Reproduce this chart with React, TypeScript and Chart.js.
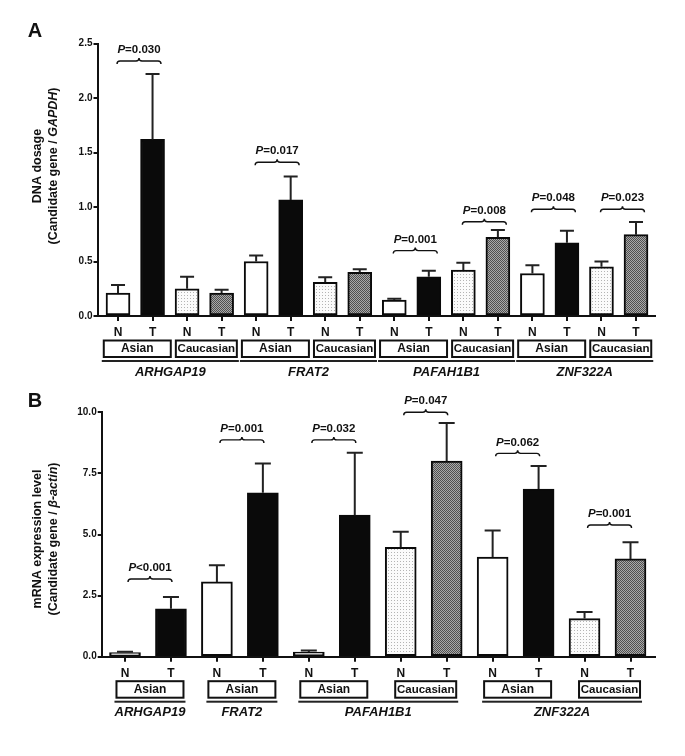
import React, { useEffect, useRef } from 'react';
import { Chart, registerables } from 'chart.js';
Chart.register(...registerables);

const FONT = '"Liberation Sans", Arial, Helvetica, sans-serif';

// ---------- Panel A: DNA dosage ----------
const aTypes = ['N', 'T', 'N', 'T', 'N', 'T', 'N', 'T', 'N', 'T', 'N', 'T', 'N', 'T', 'N', 'T'];
const aMeans = [0.21, 1.62, 0.25, 0.21, 0.5, 1.065, 0.31, 0.4, 0.147, 0.36, 0.422, 0.722, 0.39, 0.672, 0.452, 0.746];
const aSEM = [0.075, 0.6, 0.11, 0.03, 0.055, 0.215, 0.045, 0.03, 0.012, 0.056, 0.067, 0.067, 0.075, 0.111, 0.048, 0.116];
const aPopulations = ['Asian', 'Caucasian', 'Asian', 'Caucasian', 'Asian', 'Caucasian', 'Asian', 'Caucasian'];
const aGenes = ['ARHGAP19', 'FRAT2', 'PAFAH1B1', 'ZNF322A'];
const aGenePairs = [2, 2, 2, 2];
const aPPairs = [0, 2, 4, 5, 6, 7];
const aPText = ['=0.030', '=0.017', '=0.001', '=0.008', '=0.048', '=0.023'];
const aPLevel = [2.34, 1.41, 0.6, 0.865, 0.98, 0.98];
const aYTicks = [0, 0.5, 1.0, 1.5, 2.0, 2.5];

// ---------- Panel B: mRNA expression ----------
const bTypes = ['N', 'T', 'N', 'T', 'N', 'T', 'N', 'T', 'N', 'T', 'N', 'T'];
const bMeans = [0.17, 1.96, 3.06, 6.71, 0.19, 5.79, 4.48, 8.0, 4.08, 6.86, 1.56, 4.0];
const bSEM = [0.03, 0.48, 0.68, 1.19, 0.06, 2.56, 0.63, 1.56, 1.08, 0.94, 0.27, 0.68];
const bPopulations = ['Asian', 'Asian', 'Asian', 'Caucasian', 'Asian', 'Caucasian'];
const bGenes = ['ARHGAP19', 'FRAT2', 'PAFAH1B1', 'ZNF322A'];
const bGenePairs = [1, 1, 2, 2];
const bPPairs = [0, 1, 2, 3, 4, 5];
const bPText = ['<0.001', '=0.001', '=0.032', '=0.047', '=0.062', '=0.001'];
const bPLevel = [3.18, 8.87, 8.87, 10.0, 8.32, 5.39];
const bYTicks = [0, 2.5, 5.0, 7.5, 10.0];

type Panel = {
  canvasH: number; top: number; bottom: number; left: number; right: number;
  xMin: number; xMax: number; barThickness: number; yMax: number; yTicks: number[];
  capW: number; braceDx: number; braceW: number;
  types: string[]; means: number[]; sem: number[]; pops: string[];
  genes: string[]; genePairs: number[]; pPairs: number[]; pText: string[]; pLevel: number[];
  letter: string; letterX: number; letterY: number;
  title1: string; title2a: string; title2b: string; title2c: string;
  titleX1: number; titleX2: number; titleY: number;
};

const panelA: Panel = {
  canvasH: 380, top: 43.5, bottom: 316, left: 97.5, right: 655,
  xMin: -0.594, xMax: 15.55, barThickness: 24, yMax: 2.5, yTicks: aYTicks,
  capW: 14, braceDx: -1, braceW: 44,
  types: aTypes, means: aMeans, sem: aSEM, pops: aPopulations,
  genes: aGenes, genePairs: aGenePairs, pPairs: aPPairs, pText: aPText, pLevel: aPLevel,
  letter: 'A', letterX: 35, letterY: 31,
  title1: 'DNA dosage', title2a: '(Candidate gene / ', title2b: 'GAPDH', title2c: ')',
  titleX1: 38, titleX2: 54, titleY: 166,
};

const panelB: Panel = {
  canvasH: 376, top: 32.3, bottom: 276.7, left: 101.7, right: 655,
  xMin: -0.507, xMax: 11.533, barThickness: 31, yMax: 10, yTicks: bYTicks,
  capW: 16, braceDx: 3, braceW: 44,
  types: bTypes, means: bMeans, sem: bSEM, pops: bPopulations,
  genes: bGenes, genePairs: bGenePairs, pPairs: bPPairs, pText: bPText, pLevel: bPLevel,
  letter: 'B', letterX: 35, letterY: 21,
  title1: 'mRNA expression level', title2a: '(Candidate gene / ', title2b: '\u03b2-actin', title2c: ')',
  titleX1: 38, titleX2: 54, titleY: 159,
};

function makeChecker(): CanvasPattern | string {
  const c = document.createElement('canvas');
  c.width = 2; c.height = 2;
  const g = c.getContext('2d');
  if (!g) return '#808080';
  g.fillStyle = '#a9a9a9'; g.fillRect(0, 0, 2, 2);
  g.fillStyle = '#505050'; g.fillRect(0, 0, 1, 1); g.fillRect(1, 1, 1, 1);
  const p = g.createPattern(c, 'repeat');
  return p || '#808080';
}

function makeDots(): CanvasPattern | string {
  const c = document.createElement('canvas');
  c.width = 3; c.height = 3;
  const g = c.getContext('2d');
  if (!g) return '#eeeeee';
  g.fillStyle = '#fbfbfb'; g.fillRect(0, 0, 3, 3);
  g.fillStyle = '#b4b4b4'; g.fillRect(1, 1, 1, 1);
  const p = g.createPattern(c, 'repeat');
  return p || '#eeeeee';
}

function drawBrace(ctx: CanvasRenderingContext2D, x1: number, x2: number, y: number) {
  const xm = (x1 + x2) / 2;
  const h = 3;
  ctx.beginPath();
  ctx.moveTo(x1, y + h);
  ctx.quadraticCurveTo(x1, y, x1 + h, y);
  ctx.lineTo(xm - h, y);
  ctx.quadraticCurveTo(xm, y, xm, y - h);
  ctx.quadraticCurveTo(xm, y, xm + h, y);
  ctx.lineTo(x2 - h, y);
  ctx.quadraticCurveTo(x2, y, x2, y + h);
  ctx.stroke();
}

function drawMixed(ctx: CanvasRenderingContext2D, parts: { t: string; italic: boolean }[], size: number, cx: number, cy: number) {
  const fonts = parts.map(p => `${p.italic ? 'italic ' : ''}bold ${size}px ${FONT}`);
  let total = 0;
  const widths = parts.map((p, i) => { ctx.font = fonts[i]; const w = ctx.measureText(p.t).width; total += w; return w; });
  let x = cx - total / 2;
  ctx.textAlign = 'left';
  ctx.textBaseline = 'middle';
  parts.forEach((p, i) => { ctx.font = fonts[i]; ctx.fillText(p.t, x, cy); x += widths[i]; });
}

function buildChart(canvas: HTMLCanvasElement, P: Panel): Chart {
  const checker = makeChecker();
  const dots = makeDots();
  const fills = P.types.map((t, i) => {
    const pop = P.pops[Math.floor(i / 2)];
    if (pop === 'Asian') return t === 'N' ? '#ffffff' : '#0a0a0a';
    return t === 'N' ? dots : checker;
  });

  const annot = {
    id: 'annot',
    afterDatasetsDraw(chart: any) {
      const ctx: CanvasRenderingContext2D = chart.ctx;
      const xs = chart.scales.x;
      const ys = chart.scales.y;
      ctx.save();
      ctx.strokeStyle = '#222';
      ctx.lineWidth = 2;
      P.means.forEach((m, i) => {
        const x = xs.getPixelForValue(i);
        const y0 = ys.getPixelForValue(m);
        const y1 = ys.getPixelForValue(m + P.sem[i]);
        ctx.beginPath();
        ctx.moveTo(x, y0); ctx.lineTo(x, y1);
        ctx.moveTo(x - P.capW / 2, y1); ctx.lineTo(x + P.capW / 2, y1);
        ctx.stroke();
      });
      ctx.restore();
    },
    afterDraw(chart: any) {
      const ctx: CanvasRenderingContext2D = chart.ctx;
      const xs = chart.scales.x;
      const ys = chart.scales.y;
      const axisY = chart.chartArea.bottom;
      ctx.save();
      ctx.fillStyle = '#111';
      ctx.strokeStyle = '#111';
      P.pPairs.forEach((pair, k) => {
        const x1 = xs.getPixelForValue(pair * 2) + P.braceDx;
        const x2 = x1 + P.braceW;
        const y = ys.getPixelForValue(P.pLevel[k]);
        ctx.lineWidth = 1.4;
        drawBrace(ctx, x1, x2, y);
        drawMixed(ctx, [{ t: 'P', italic: true }, { t: P.pText[k], italic: false }], 11.5, (x1 + x2) / 2, y - 11);
      });
      const boxes: { l: number; r: number }[] = [];
      P.pops.forEach((pop, j) => {
        const c = (xs.getPixelForValue(2 * j) + xs.getPixelForValue(2 * j + 1)) / 2 + 2;
        const w = pop === 'Asian' ? 67 : 61;
        const l = c - w / 2;
        boxes.push({ l, r: l + w });
        ctx.lineWidth = 2;
        ctx.strokeRect(l, axisY + 24.5, w, 16.5);
        ctx.font = `bold ${pop === 'Asian' ? 12 : 11.5}px ${FONT}`;
        ctx.textAlign = 'center';
        ctx.textBaseline = 'middle';
        ctx.fillText(pop, c, axisY + 33);
      });
      let p = 0;
      P.genes.forEach((g, k) => {
        const n = P.genePairs[k];
        const l = boxes[p].l - 2;
        const r = boxes[p + n - 1].r + 2;
        p += n;
        ctx.fillStyle = '#222';
        ctx.fillRect(l, axisY + 44, r - l, 2);
        ctx.fillStyle = '#111';
        ctx.font = `italic bold 13px ${FONT}`;
        ctx.textAlign = 'center';
        ctx.textBaseline = 'middle';
        ctx.fillText(g, (l + r) / 2, axisY + 56);
      });
      ctx.font = `bold 20px ${FONT}`;
      ctx.textAlign = 'center';
      ctx.textBaseline = 'middle';
      ctx.fillText(P.letter, P.letterX, P.letterY);
      ctx.save();
      ctx.translate(P.titleX1, P.titleY);
      ctx.rotate(-Math.PI / 2);
      drawMixed(ctx, [{ t: P.title1, italic: false }], 12.5, 0, 0);
      ctx.restore();
      ctx.save();
      ctx.translate(P.titleX2, P.titleY);
      ctx.rotate(-Math.PI / 2);
      drawMixed(ctx, [{ t: P.title2a, italic: false }, { t: P.title2b, italic: true }, { t: P.title2c, italic: false }], 12.5, 0, 0);
      ctx.restore();
      ctx.restore();
    },
  };

  return new Chart(canvas, {
    type: 'bar',
    data: {
      datasets: [{
        data: P.means.map((m, i) => ({ x: i, y: m })),
        backgroundColor: fills as any,
        borderColor: '#0a0a0a',
        borderWidth: 2,
        borderSkipped: false,
        barThickness: P.barThickness,
      }],
    },
    options: {
      animation: false,
      responsive: false,
      devicePixelRatio: 1,
      layout: { padding: { top: P.top, right: 685 - P.right, left: 0, bottom: 0 } },
      plugins: { legend: { display: false }, tooltip: { enabled: false } },
      scales: {
        x: {
          type: 'linear',
          offset: false,
          min: P.xMin,
          max: P.xMax,
          afterBuildTicks: (s: any) => { s.ticks = P.types.map((_, i) => ({ value: i })); },
          afterFit: (s: any) => { s.height = P.canvasH - P.bottom; },
          grid: { offset: false, drawOnChartArea: false, drawTicks: true, tickLength: 5, lineWidth: 2, color: '#111' },
          border: { display: true, width: 2, color: '#111' },
          ticks: {
            callback: (v: any) => P.types[Math.round(Number(v))] ?? '',
            font: { family: FONT, size: 12, weight: 'bold' },
            color: '#111',
            padding: 4.5,
            maxRotation: 0,
            autoSkip: false,
          },
        },
        y: {
          min: 0,
          max: P.yMax,
          afterBuildTicks: (s: any) => { s.ticks = P.yTicks.map(v => ({ value: v })); },
          afterFit: (s: any) => { s.width = P.left; },
          grid: { drawOnChartArea: false, drawTicks: true, tickLength: 4, lineWidth: 2, color: '#111' },
          border: { display: true, width: 2, color: '#111' },
          ticks: {
            callback: (v: any) => Number(v).toFixed(1),
            font: { family: FONT, size: 10, weight: 'bold' },
            color: '#111',
            padding: 1,
          },
        },
      },
    } as any,
    plugins: [annot],
  });
}

function PanelChart({ panel, top }: { panel: Panel; top: number }) {
  const ref = useRef<HTMLCanvasElement | null>(null);
  useEffect(() => {
    if (!ref.current) return;
    const chart = buildChart(ref.current, panel);
    return () => chart.destroy();
  }, [panel]);
  return (
    <canvas
      ref={ref}
      width={685}
      height={panel.canvasH}
      style={{ position: 'absolute', left: 0, top, width: 685, height: panel.canvasH, display: 'block' }}
    />
  );
}

export default function App() {
  return (
    <div style={{ position: 'absolute', left: 0, top: 0, width: 685, height: 756, background: '#fff' }}>
      <PanelChart panel={panelA} top={0} />
      <PanelChart panel={panelB} top={380} />
    </div>
  );
}
